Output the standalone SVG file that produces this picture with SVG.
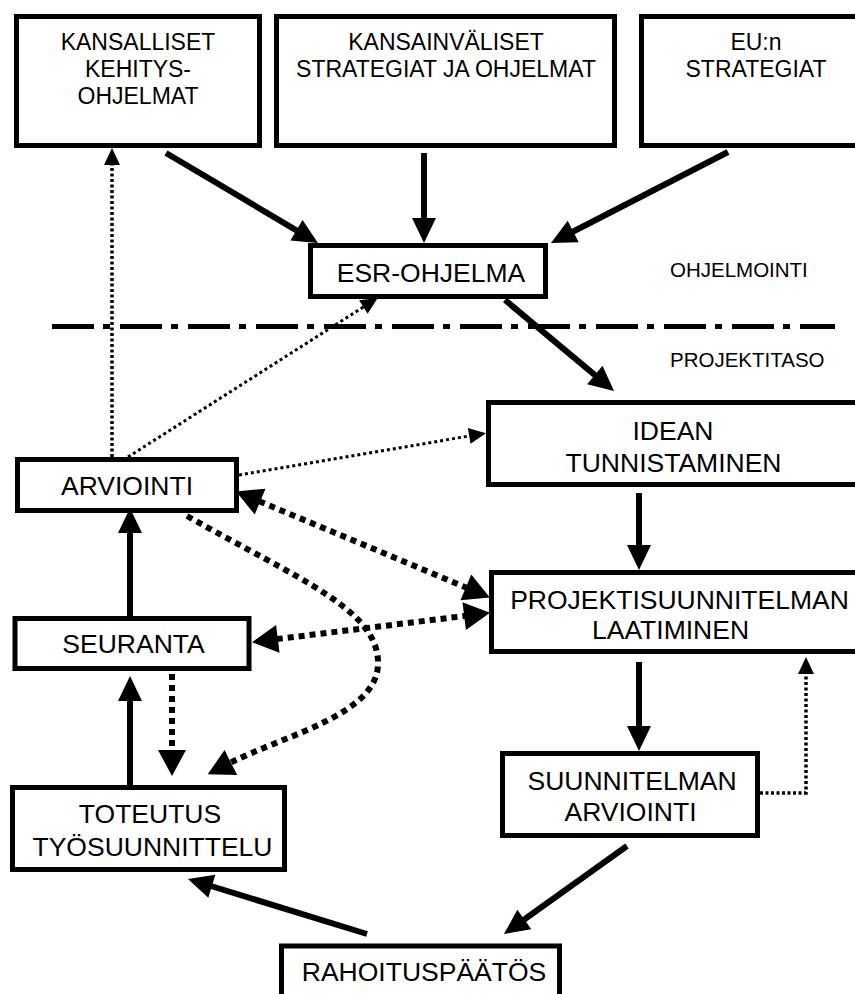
<svg xmlns="http://www.w3.org/2000/svg" width="855" height="994" viewBox="0 0 855 994">
<defs>
<style>
.box{fill:#fff;stroke:#000;stroke-width:5}
.t{font-family:"Liberation Sans",Arial,sans-serif;fill:#000;text-anchor:middle}
.t23{font-size:23px}
.t26{font-size:26.5px}
.lbl{font-family:"Liberation Sans",Arial,sans-serif;font-size:20.5px;fill:#000}
.solid{fill:none;stroke:#000;stroke-width:6}
.thick{fill:none;stroke:#000;stroke-width:6;stroke-dasharray:6 5}
.thin{fill:none;stroke:#000;stroke-width:3.5;stroke-dasharray:3 2.5}
.thinD{fill:none;stroke:#000;stroke-width:3;stroke-dasharray:3 3}
.sep{fill:none;stroke:#000;stroke-width:5;stroke-dasharray:42 9 7 10}
</style>
<marker id="hs" markerUnits="userSpaceOnUse" viewBox="-1 -12 25 24" refX="0" refY="0" markerWidth="25" markerHeight="24" orient="auto" overflow="visible">
<path d="M-1,-12 L24,0 L-1,12 z" fill="#000"/>
</marker>
<marker id="hd" markerUnits="userSpaceOnUse" viewBox="-1 -14 26 28" refX="0" refY="0" markerWidth="26" markerHeight="28" orient="auto-start-reverse" overflow="visible">
<path d="M-1,-14 L25,0 L-1,14 z" fill="#000"/>
</marker>
<marker id="ht" markerUnits="userSpaceOnUse" viewBox="-1 -8 17 16" refX="0" refY="0" markerWidth="17" markerHeight="16" orient="auto" overflow="visible">
<path d="M-1,-8 L16,0 L-1,8 z" fill="#000"/>
</marker>
</defs>
<rect width="855" height="994" fill="#fff"/>

<g id="connectors">
<line class="sep" x1="52" y1="326.5" x2="835" y2="326.5"/>
<!-- solid -->
<line class="solid" x1="166" y1="153" x2="297.3" y2="230.8" marker-end="url(#hs)"/>
<line class="solid" x1="424" y1="153" x2="424" y2="219" marker-end="url(#hs)"/>
<line class="solid" x1="728" y1="152" x2="572.3" y2="232" marker-end="url(#hs)"/>
<line class="solid" x1="505" y1="300" x2="595.6" y2="375.6" marker-end="url(#hs)"/>
<line class="solid" x1="639" y1="493" x2="639" y2="546" marker-end="url(#hs)"/>
<line class="solid" x1="639" y1="662" x2="639" y2="727" marker-end="url(#hs)"/>
<line class="solid" x1="627" y1="846" x2="523.5" y2="920" marker-end="url(#hs)"/>
<line class="solid" x1="367" y1="934" x2="210.9" y2="886" marker-end="url(#hs)"/>
<line class="solid" x1="130" y1="785" x2="130" y2="700" marker-end="url(#hs)"/>
<line class="solid" x1="130" y1="617" x2="130" y2="532" marker-end="url(#hs)"/>
<!-- thick dashed -->
<line class="thick" x1="172" y1="674" x2="172" y2="751" marker-end="url(#hd)"/>
<line class="thick" x1="259.2" y1="501.2" x2="466.8" y2="587.8" marker-start="url(#hd)" marker-end="url(#hd)"/>
<line class="thick" x1="276.8" y1="639.1" x2="465.2" y2="615.9" marker-start="url(#hd)" marker-end="url(#hd)"/>
<path class="thick" d="M187,516 C300,580 380,610 378,665 C376,715 285,735 230,763" marker-end="url(#hd)"/>
<!-- thin dotted -->
<line class="thin" x1="112" y1="457" x2="112" y2="164" marker-end="url(#ht)"/>
<line class="thinD" x1="128" y1="457" x2="364.2" y2="306.5" marker-end="url(#ht)"/>
<line class="thinD" x1="239" y1="475" x2="470.2" y2="435.8" marker-end="url(#ht)"/>
<polyline class="thin" points="760,793 806,793 806,673" marker-end="url(#ht)"/>
</g>

<g id="kansalliset">
<rect class="box" x="16.5" y="16.5" width="243" height="129"/>
<text class="t t23" x="138" y="50">KANSALLISET</text>
<text class="t t23" x="138" y="77">KEHITYS-</text>
<text class="t t23" x="138" y="104">OHJELMAT</text>
</g>
<g id="kansainvaliset">
<rect class="box" x="276.5" y="16.5" width="338" height="129"/>
<text class="t t23" x="446" y="50">KANSAINVÄLISET</text>
<text class="t t23" x="446" y="77">STRATEGIAT JA OHJELMAT</text>
</g>
<g id="eu">
<rect class="box" x="641.5" y="16.5" width="240" height="129"/>
<text class="t t23" x="756" y="50">EU:n</text>
<text class="t t23" x="756" y="77">STRATEGIAT</text>
</g>
<g id="esr">
<rect class="box" x="310.5" y="245.5" width="235" height="51"/>
<text class="t t26" x="431" y="281.5">ESR-OHJELMA</text>
</g>
<g id="labels">
<text class="lbl" x="670" y="277">OHJELMOINTI</text>
<text class="lbl" x="670" y="366.5">PROJEKTITASO</text>
</g>
<g id="idean">
<rect class="box" x="488.5" y="402.5" width="380" height="82"/>
<text class="t t26" x="673" y="440">IDEAN</text>
<text class="t t26" x="673.5" y="471.5">TUNNISTAMINEN</text>
</g>
<g id="arviointi">
<rect class="box" x="17.5" y="459.5" width="219" height="51"/>
<text class="t t26" x="127" y="495">ARVIOINTI</text>
</g>
<g id="projektisuunnitelman">
<rect class="box" x="491.5" y="572.5" width="380" height="79"/>
<text class="t t26" x="679.5" y="608.5">PROJEKTISUUNNITELMAN</text>
<text class="t t26" x="670.5" y="638.5">LAATIMINEN</text>
</g>
<g id="seuranta">
<rect class="box" x="15" y="618.5" width="234" height="50"/>
<text class="t t26" x="133.5" y="653">SEURANTA</text>
</g>
<g id="suunnitelman">
<rect class="box" x="502.5" y="753.5" width="255" height="82"/>
<text class="t t26" x="632" y="789.5">SUUNNITELMAN</text>
<text class="t t26" x="630.5" y="821">ARVIOINTI</text>
</g>
<g id="toteutus">
<rect class="box" x="12.5" y="787.5" width="272" height="82"/>
<text class="t t26" x="150" y="823">TOTEUTUS</text>
<text class="t t26" x="152.5" y="855.5">TYÖSUUNNITTELU</text>
</g>
<g id="rahoitus">
<rect class="box" x="281.5" y="946" width="278" height="80"/>
<text class="t t26" x="424" y="981">RAHOITUSPÄÄTÖS</text>
</g>
</svg>
